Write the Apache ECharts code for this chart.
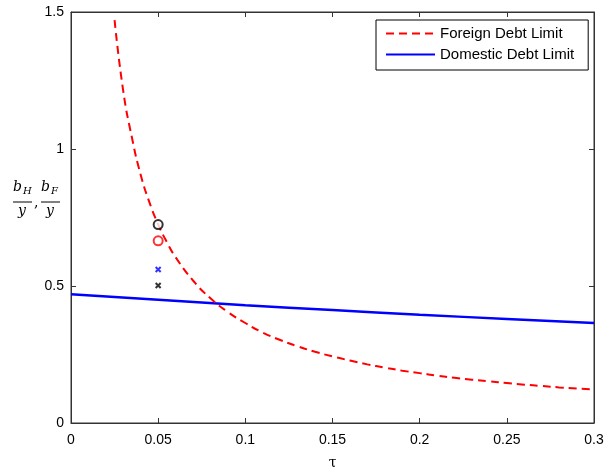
<!DOCTYPE html>
<html><head><meta charset="utf-8">
<script src="https://cdn.jsdelivr.net/npm/echarts@6/dist/echarts.min.js"></script>
<style>html,body{margin:0;padding:0;background:#fff}#c{width:605px;height:468px}</style>
</head><body><div id="c"></div>
<script>
var tauForeign = [0.025,0.03,0.035,0.04,0.045,0.05,0.055,0.06,0.07,0.08,0.09,0.1,0.11,0.12,0.13,0.14,0.15,0.16,0.17,0.18,0.19,0.2,0.21,0.22,0.23,0.24,0.25,0.26,0.27,0.28,0.29,0.3];
var foreignLimit = [1.47,1.21,1.04,0.905,0.805,0.725,0.66,0.605,0.52,0.455,0.405,0.365,0.33,0.303,0.28,0.26,0.243,0.228,0.214,0.202,0.191,0.182,0.173,0.165,0.158,0.152,0.146,0.14,0.135,0.13,0.126,0.122];
var tauDomestic = [0,0.05,0.1,0.15,0.2,0.25,0.3];
var domesticLimit = [0.47,0.45,0.43,0.412,0.395,0.38,0.365];
var markTau = 0.05;
var blackCircle = 0.724;
var redCircle = 0.665;
var blueCross = 0.56;
var blackCross = 0.502;

function pairs(xs, ys){ return xs.map(function(x,i){return [x, ys[i]];}); }
var crossPath = 'path://M0,0L10,10M10,0L0,10';
var chart = echarts.init(document.getElementById('c'));
var axisCol = '#333';
var sans = 'Liberation Sans, Arial, sans-serif';
var tickFont = {color:'#000', fontSize:14, fontFamily:sans};
function tick(){ return {show:true, inside:true, length:5, lineStyle:{color:axisCol, width:1}}; }
chart.setOption({
  animation:false,
  grid:{left:71, right:11, top:12, bottom:45, containLabel:false, outerBoundsMode:'none',
        show:true, borderColor:axisCol, borderWidth:1, backgroundColor:'#fff'},
  legend:{
    data:['Foreign Debt Limit','Domestic Debt Limit'],
    orient:'vertical', left:376, top:20,
    backgroundColor:'#fff', borderColor:'#000', borderWidth:1,
    padding:[6,14,8,9], itemGap:6, itemWidth:49, itemHeight:10,
    itemStyle:{opacity:0, color:'rgba(0,0,0,0)', borderWidth:0},
    textStyle:{color:'#000', fontSize:15, lineHeight:15, fontFamily:sans}
  },
  xAxis:[{
    type:'value', min:0, max:0.3, interval:0.05,
    name:'τ', nameLocation:'middle', nameGap:33,
    nameTextStyle:{color:'#000', fontSize:14, fontFamily:'DejaVu Serif, serif'},
    axisLine:{show:true, onZero:false, lineStyle:{color:axisCol}}, axisTick:tick(),
    axisLabel:Object.assign({margin:10}, tickFont), splitLine:{show:false}
  },{
    type:'value', min:0, max:0.3, interval:0.05, position:'top',
    axisLine:{show:true, onZero:false, lineStyle:{color:axisCol}}, axisTick:tick(),
    axisLabel:{show:false}, splitLine:{show:false}
  }],
  yAxis:[{
    type:'value', min:0, max:1.5, interval:0.5,
    axisLine:{show:true, onZero:false, lineStyle:{color:axisCol}}, axisTick:tick(),
    axisLabel:Object.assign({margin:7}, tickFont), splitLine:{show:false}
  },{
    type:'value', min:0, max:1.5, interval:0.5, position:'right',
    axisLine:{show:true, onZero:false, lineStyle:{color:axisCol}}, axisTick:tick(),
    axisLabel:{show:false}, splitLine:{show:false}
  }],
  graphic:[
    {type:'text', left:13, top:180, style:{text:'b', font:'italic 14px DejaVu Serif, serif', fill:'#000'}},
    {type:'text', left:23, top:186, style:{text:'H', font:'italic 10px DejaVu Serif, serif', fill:'#000'}},
    {type:'line', shape:{x1:13, y1:202, x2:32, y2:202}, style:{stroke:'#000', lineWidth:1}},
    {type:'text', left:18, top:204, style:{text:'y', font:'italic 14px DejaVu Serif, serif', fill:'#000'}},
    {type:'text', left:34, top:196, style:{text:',', font:'14px DejaVu Serif, serif', fill:'#000'}},
    {type:'text', left:41, top:180, style:{text:'b', font:'italic 14px DejaVu Serif, serif', fill:'#000'}},
    {type:'text', left:51, top:186, style:{text:'F', font:'italic 10px DejaVu Serif, serif', fill:'#000'}},
    {type:'line', shape:{x1:41, y1:202, x2:60, y2:202}, style:{stroke:'#000', lineWidth:1}},
    {type:'text', left:46, top:204, style:{text:'y', font:'italic 14px DejaVu Serif, serif', fill:'#000'}}
  ],
  series:[
    {name:'Foreign Debt Limit', type:'line', data:pairs(tauForeign, foreignLimit), smooth:true, showSymbol:false, symbol:'none',
     lineStyle:{color:'#ff0000', width:2, type:[8,5]}, itemStyle:{color:'#ff0000'}, clip:true, z:3},
    {name:'Domestic Debt Limit', type:'line', data:pairs(tauDomestic, domesticLimit), smooth:true, showSymbol:false, symbol:'none',
     lineStyle:{color:'#0000ff', width:2.5}, itemStyle:{color:'#0000ff'}, z:2},
    {name:'bc', type:'scatter', data:[[markTau, blackCircle]], symbol:'emptyCircle', symbolSize:9,
     itemStyle:{color:'#000', borderColor:'#000', borderWidth:2}, z:4},
    {name:'rc', type:'scatter', data:[[markTau, redCircle]], symbol:'emptyCircle', symbolSize:9,
     itemStyle:{color:'#ff0000', borderColor:'#ff0000', borderWidth:2}, z:4},
    {name:'bx', type:'scatter', data:[[markTau, blueCross]], symbol:crossPath, symbolSize:5,
     itemStyle:{color:'#0000ff', borderColor:'#0000ff', borderWidth:2}, z:4},
    {name:'kx', type:'scatter', data:[[markTau, blackCross]], symbol:crossPath, symbolSize:5,
     itemStyle:{color:'#000', borderColor:'#000', borderWidth:2}, z:4},
    {name:'frame', type:'scatter', xAxisIndex:1, yAxisIndex:1, data:[], silent:true}
  ]
});
</script></body></html>
